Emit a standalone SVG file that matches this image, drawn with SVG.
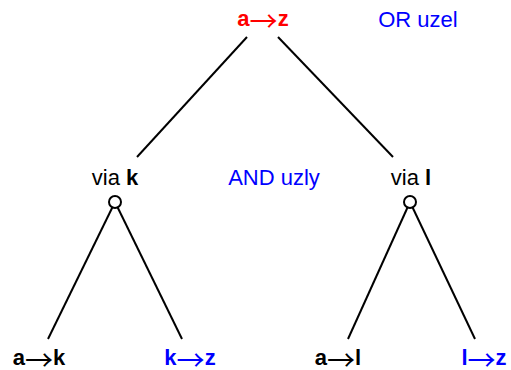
<svg xmlns="http://www.w3.org/2000/svg" width="511" height="370" viewBox="0 0 511 370">
  <style>
    text { font-family: "Liberation Sans", Arial, sans-serif; font-size: 22px; text-anchor: middle; }
    .b { font-weight: bold; }
    .ar { font-family: "Noto Sans CJK JP", "DejaVu Sans", sans-serif; font-weight: normal; font-size: 28px; }
    .red { fill: #ff0000; }
    .blue { fill: #0000ff; }
    .edge { stroke: #000; stroke-width: 2; fill: none; }
    .and { fill: #fff; stroke: #000; stroke-width: 2; }
  </style>
  <rect width="511" height="370" fill="#fff"/>

  <!-- connectors -->
  <g id="edges">
    <line class="edge" x1="247" y1="37" x2="137" y2="157"/>
    <line class="edge" x1="278" y1="37" x2="393" y2="157"/>
    <line class="edge" x1="115" y1="202" x2="48" y2="339"/>
    <line class="edge" x1="115" y1="202" x2="182" y2="339"/>
    <line class="edge" x1="410" y1="202" x2="348" y2="339"/>
    <line class="edge" x1="410" y1="202" x2="475" y2="339"/>
  </g>

  <!-- root OR node -->
  <g id="root">
    <text x="263" y="26" class="red"><tspan class="b">a</tspan><tspan class="ar" dy="6">→</tspan><tspan class="b" dy="-6">z</tspan></text>
  </g>
  <g id="or-label">
    <text x="418" y="27" class="blue">OR uzel</text>
  </g>

  <!-- AND nodes -->
  <g id="via-k">
    <text x="115" y="185">via <tspan class="b">k</tspan></text>
    <circle class="and" cx="115" cy="202" r="6"/>
  </g>
  <g id="and-label">
    <text x="274" y="185" class="blue">AND uzly</text>
  </g>
  <g id="via-l">
    <text x="411" y="185">via <tspan class="b">l</tspan></text>
    <circle class="and" cx="410" cy="202" r="6"/>
  </g>

  <!-- leaves -->
  <g id="a-k">
    <text x="39" y="365"><tspan class="b">a</tspan><tspan class="ar" dy="6">→</tspan><tspan class="b" dy="-6">k</tspan></text>
  </g>
  <g id="k-z">
    <text x="190" y="365" class="blue"><tspan class="b">k</tspan><tspan class="ar" dy="6">→</tspan><tspan class="b" dy="-6">z</tspan></text>
  </g>
  <g id="a-l">
    <text x="338" y="365"><tspan class="b">a</tspan><tspan class="ar" dy="6">→</tspan><tspan class="b" dy="-6">l</tspan></text>
  </g>
  <g id="l-z">
    <text x="484" y="365" class="blue"><tspan class="b">l</tspan><tspan class="ar" dy="6">→</tspan><tspan class="b" dy="-6">z</tspan></text>
  </g>
</svg>
